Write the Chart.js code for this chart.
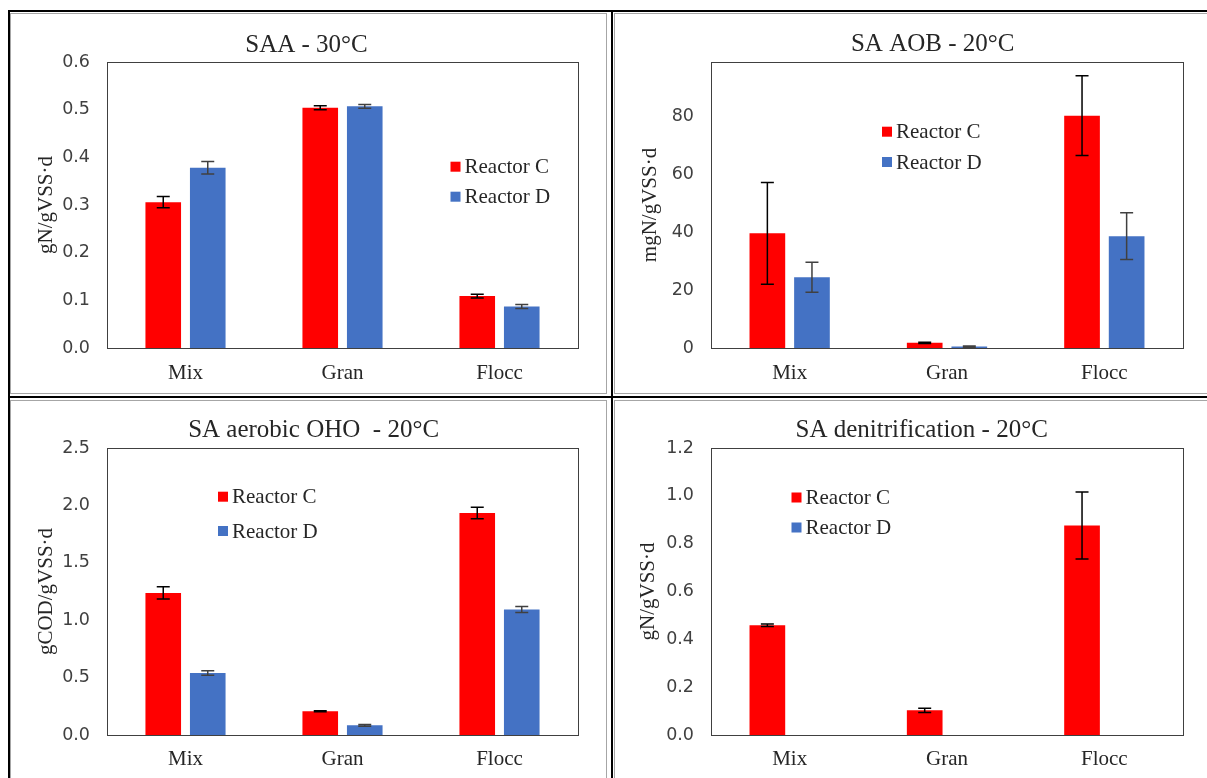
<!DOCTYPE html>
<html>
<head>
<meta charset="utf-8">
<script src="https://cdn.jsdelivr.net/npm/chart.js@4.4.1/dist/chart.umd.min.js"></script>
<style>
  html, body { margin: 0; padding: 0; background: #fff; width: 1207px; height: 778px; overflow: hidden; position: relative; }
  .rule { position: absolute; background: #000; }
  .cell { position: absolute; border: 1px solid #a6a6a6; box-sizing: border-box; }
  canvas { position: absolute; }
</style>
</head>
<body>
<!-- table rules -->
<div class="rule" style="left:8px;top:10px;width:1199px;height:2px"></div>
<div class="rule" style="left:8px;top:10px;width:2px;height:768px"></div>
<div class="rule" style="left:611px;top:10px;width:2px;height:768px"></div>
<div class="rule" style="left:8px;top:396px;width:1199px;height:2px"></div>
<div class="cell" style="left:10px;top:13px;width:597px;height:381px"></div>
<div class="cell" style="left:614px;top:13px;width:600px;height:381px"></div>
<div class="cell" style="left:10px;top:400px;width:597px;height:400px"></div>
<div class="cell" style="left:614px;top:400px;width:600px;height:400px"></div>

<canvas id="saa" width="563" height="377" style="left:25px;top:15px"></canvas>
<canvas id="aob" width="590" height="377" style="left:638px;top:15px"></canvas>
<canvas id="oho" width="560" height="377" style="left:34px;top:401px"></canvas>
<canvas id="den" width="572" height="377" style="left:636px;top:401px"></canvas>

<script>
// Categories and series
const categories = ['Mix', 'Gran', 'Flocc'];
const seriesNames = ['Reactor C', 'Reactor D'];

// SAA - 30°C (gN/gVSS·d)
const saaC = [0.306, 0.504, 0.109];
const saaCErr = [0.012, 0.004, 0.004];
const saaD = [0.378, 0.507, 0.087];
const saaDErr = [0.013, 0.004, 0.004];

// SA AOB - 20°C (mgN/gVSS·d)
const aobC = [39.7, 1.8, 80.4];
const aobCErr = [17.6, 0.2, 13.8];
const aobD = [24.5, 0.5, 38.7];
const aobDErr = [5.2, 0.2, 8.1];

// SA aerobic OHO - 20°C (gCOD/gVSS·d)
const ohoC = [1.238, 0.207, 1.933];
const ohoCErr = [0.053, 0.005, 0.05];
const ohoD = [0.54, 0.084, 1.093];
const ohoDErr = [0.02, 0.008, 0.027];

// SA denitrification - 20°C (gN/gVSS·d), no Reactor D measurements
const denC = [0.459, 0.103, 0.876];
const denCErr = [0.005, 0.009, 0.14];
const denD = [null, null, null];
const denDErr = [0, 0, 0];

// Axis ticks
const saaTicks = { max: 0.6, step: 0.1, decimals: 1 };
const aobTicks = { max: 99, step: 20, decimals: 0 };
const ohoTicks = { max: 2.5, step: 0.5, decimals: 1 };
const denTicks = { max: 1.2, step: 0.2, decimals: 1 };

const SERIF = "'Liberation Serif', 'Times New Roman', serif";
const SANS = "'DejaVu Sans', sans-serif";
const RED = '#ff0000';
const BLUE = '#4472c4';

// Plot frame around the chart area
const frame = {
  id: 'frame',
  afterDatasetsDraw(chart) {
    const { ctx, chartArea: a } = chart;
    ctx.save();
    ctx.strokeStyle = '#404040';
    ctx.lineWidth = 1;
    ctx.strokeRect(Math.round(a.left) + 0.5, Math.round(a.top) + 0.5,
                   Math.round(a.right - a.left), Math.round(a.bottom - a.top));
    ctx.restore();
  }
};

// Symmetric error bars taken from each dataset's `errors` array
const errorBars = {
  id: 'errorBars',
  afterDatasetsDraw(chart) {
    const { ctx } = chart;
    const y = chart.scales.y;
    chart.data.datasets.forEach((ds, di) => {
      if (!ds.errors) return;
      const meta = chart.getDatasetMeta(di);
      ctx.save();
      ctx.strokeStyle = ds.errorColor;
      ctx.lineWidth = 1.5;
      meta.data.forEach((bar, i) => {
        const v = ds.data[i];
        const e = ds.errors[i];
        if (v == null || !e) return;
        const top = y.getPixelForValue(v + e);
        const bot = y.getPixelForValue(v - e);
        const x = bar.x;
        const cap = 6.5;
        ctx.beginPath();
        ctx.moveTo(x, top); ctx.lineTo(x, bot);
        ctx.moveTo(x - cap, top); ctx.lineTo(x + cap, top);
        ctx.moveTo(x - cap, bot); ctx.lineTo(x + cap, bot);
        ctx.stroke();
      });
      ctx.restore();
    });
  }
};

// Chart heading, centred on a given point of the canvas
const heading = {
  id: 'heading',
  afterDraw(chart, args, opts) {
    const { ctx } = chart;
    ctx.save();
    ctx.font = `25px ${SERIF}`;
    ctx.fillStyle = '#262626';
    ctx.textAlign = 'center';
    ctx.textBaseline = 'middle';
    ctx.fillText(opts.text, opts.x, opts.y);
    ctx.restore();
  }
};

// Legend drawn inside the plot area
const innerLegend = {
  id: 'innerLegend',
  afterDraw(chart, args, opts) {
    const { ctx, chartArea: a } = chart;
    ctx.save();
    ctx.font = `21px ${SERIF}`;
    ctx.textBaseline = 'middle';
    ctx.textAlign = 'left';
    chart.data.datasets.forEach((ds, i) => {
      const cx = a.left + opts.x;
      const cy = a.top + opts.y + i * opts.gap;
      ctx.fillStyle = ds.backgroundColor;
      ctx.fillRect(cx, cy - 5, 10, 10);
      ctx.fillStyle = '#262626';
      ctx.fillText(ds.label, cx + 14, cy + 1);
    });
    ctx.restore();
  }
};

function makeChart(id, title, yTitle, c, cErr, d, dErr, ticks, L) {
  const el = document.getElementById(id);
  const left = parseFloat(el.style.left);
  const top = parseFloat(el.style.top);
  return new Chart(el, {
    type: 'bar',
    data: {
      labels: categories,
      datasets: [
        { label: seriesNames[0], data: c, errors: cErr, backgroundColor: RED, errorColor: '#000000',
          barPercentage: 0.8, categoryPercentage: 0.567 },
        { label: seriesNames[1], data: d, errors: dErr, backgroundColor: BLUE, errorColor: '#404040',
          barPercentage: 0.8, categoryPercentage: 0.567 }
      ]
    },
    options: {
      responsive: false,
      animation: false,
      devicePixelRatio: 1,
      layout: { padding: { left: 0, right: L.rp, top: L.plotTop - top, bottom: 0 } },
      plugins: {
        legend: { display: false },
        tooltip: { enabled: false },
        title: { display: false },
        heading: { text: title, x: L.titleX - left, y: L.titleY - top },
        innerLegend: L.legend
      },
      scales: {
        x: {
          grid: { display: false, drawTicks: false },
          border: { display: false },
          ticks: { color: '#262626', font: { family: SERIF, size: 21 }, padding: L.xpad },
          afterFit(s) { s.height = L.xh; }
        },
        y: {
          min: 0, max: ticks.max,
          grid: { display: false, drawTicks: false },
          border: { display: false },
          ticks: {
            stepSize: ticks.step, includeBounds: false,
            color: '#404040', font: { family: SANS, size: 17.5 }, padding: 17,
            callback: v => Number(v).toFixed(ticks.decimals)
          },
          title: {
            display: true, text: yTitle, color: '#262626',
            font: { family: SERIF, size: 21 }, padding: { top: L.ytp, bottom: 0 }
          },
          afterFit(s) { s.width = L.yw; }
        }
      }
    },
    plugins: [frame, errorBars, heading, innerLegend]
  });
}

makeChart('saa', 'SAA - 30°C', 'gN/gVSS·d', saaC, saaCErr, saaD, saaDErr, saaTicks,
  { rp: 10, plotTop: 62, titleX: 306.5, titleY: 45, xh: 44, xpad: 12.4, yw: 82, ytp: 8.4,
    legend: { x: 343.5, y: 104.7, gap: 30 } });

makeChart('aob', 'SA AOB - 20°C', 'mgN/gVSS·d', aobC, aobCErr, aobD, aobDErr, aobTicks,
  { rp: 45, plotTop: 62, titleX: 932.7, titleY: 44, xh: 44, xpad: 12.4, yw: 73, ytp: 0,
    legend: { x: 171, y: 69.7, gap: 30.3 } });

makeChart('oho', 'SA aerobic OHO  - 20°C', 'gCOD/gVSS·d', ohoC, ohoCErr, ohoD, ohoDErr, ohoTicks,
  { rp: 16, plotTop: 448, titleX: 313.6, titleY: 430, xh: 43, xpad: 11.7, yw: 73, ytp: 0,
    legend: { x: 111, y: 48.7, gap: 34.3 } });

makeChart('den', 'SA denitrification - 20°C', 'gN/gVSS·d', denC, denCErr, denD, denDErr, denTicks,
  { rp: 25, plotTop: 448, titleX: 921.7, titleY: 430, xh: 43, xpad: 11.7, yw: 75, ytp: 0,
    legend: { x: 80.5, y: 49.5, gap: 30 } });
</script>
</body>
</html>
